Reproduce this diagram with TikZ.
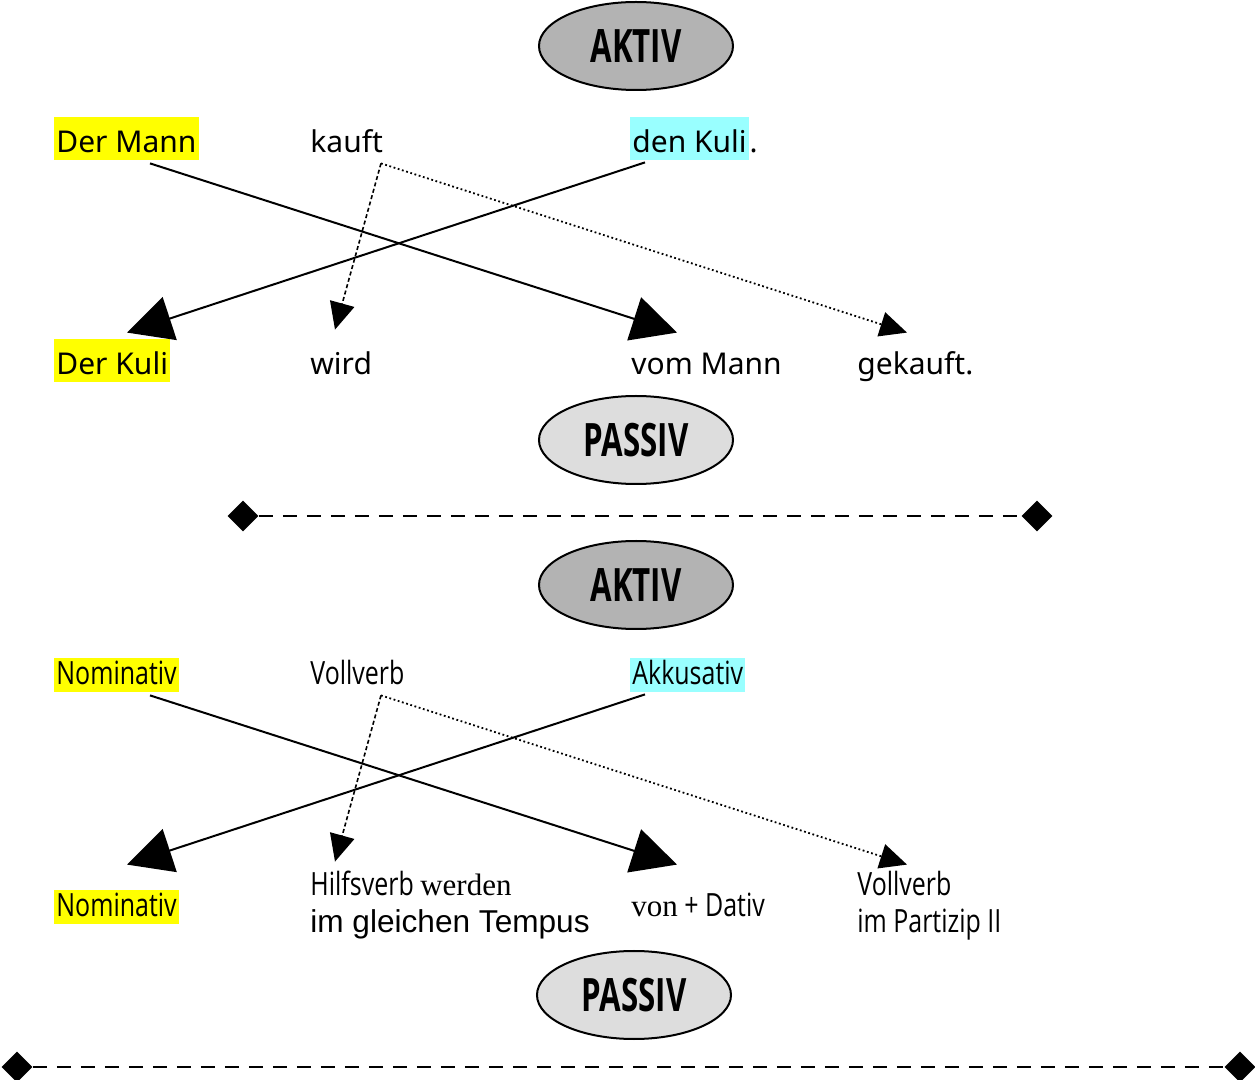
\documentclass[tikz,border=0pt]{standalone}
\usepackage{fontspec}
\usetikzlibrary{arrows.meta,shapes.geometric,calc}
\setmainfont{Noto Sans}
\newfontfamily\comicfont{Noto Sans}
\newfontfamily\condfont[FakeStretch=0.78]{Open Sans}
\newfontfamily\condboldfont[FakeStretch=0.68]{Open Sans}
\newfontfamily\arialfont{Liberation Sans}
\newfontfamily\tmsfont{Liberation Serif}
\definecolor{hlY}{HTML}{FFFF00}
\definecolor{hlC}{HTML}{99FFFF}
\definecolor{aktivgray}{HTML}{B3B3B3}
\definecolor{passivgray}{HTML}{DDDDDD}
\tikzset{
  ell/.style={ellipse, draw=black, line width=1pt, minimum width=97pt, minimum height=44pt, inner sep=0pt,
    font=\condboldfont\bfseries\fontsize{23}{26}\selectfont},
  comic/.style={anchor=base west, inner xsep=1pt, inner ysep=0pt, text height=18pt, text depth=3.5pt,
    font=\comicfont\fontsize{15}{18}\selectfont},
  cond/.style={anchor=base west, inner xsep=1pt, inner ysep=0pt, text height=13.5pt, text depth=3.5pt,
    font=\condfont\fontsize{16}{19}\selectfont},
  bigarrow/.style={line width=1pt, -{Triangle[length=22.5pt,width=22.5pt]}},
  dasharrow/.style={line width=0.8pt, dash pattern=on 2pt off 1.3pt, -{Triangle[length=13.5pt,width=12.5pt]}},
  dotarrow/.style={line width=0.9pt, dash pattern=on 0.9pt off 1.3pt, -{Triangle[length=13.5pt,width=12.5pt]}},
  diam/.style={diamond, fill=black, inner sep=0pt, minimum size=15.5pt},
  sepline/.style={line width=1pt, dash pattern=on 7pt off 5pt},
}
\begin{document}
\begin{tikzpicture}[x=0.5pt,y=-0.5pt]
\useasboundingbox (0,0) rectangle (1255,1080);

% ---------- upper example ----------
\node[ell, fill=aktivgray] (aktiv1) at (636,46) {AKTIV};

\node[comic, fill=hlY] (dermann) at (54,153) {Der Mann};
\node[comic] (kauft) at (308,153) {kauft};
\node[comic, fill=hlC] (denkuli) at (630,153) {den Kuli};
\node[comic, inner xsep=0pt, anchor=base west] (punkt1) at (denkuli.base east) {.};

\node[comic, fill=hlY] (derkuli) at (54,375) {Der Kuli};
\node[comic] (wird) at (308,375) {wird};
\node[comic] (vommann) at (629,375) {vom Mann};
\node[comic] (gekauft) at (855,375) {gekauft.};

\draw[bigarrow] ($(dermann.south west)+(96,3)$) -- ($(vommann.north west)+(48,-6)$);
\draw[bigarrow] ($(denkuli.south west)+(15,2)$) -- ($(derkuli.north west)+(73,-6)$);
\draw[dasharrow] ($(kauft.south west)+(73,3)$) -- ($(wird.north west)+(27,-9)$);
\draw[dotarrow] ($(kauft.south west)+(73,3)$) -- ($(gekauft.north west)+(52,-6)$);

\node[ell, fill=passivgray] (passiv1) at (636,440) {PASSIV};

\node[diam] (d1) at (243,516) {};
\node[diam] (d2) at (1037,516) {};
\draw[sepline] (d1) -- (d2);

% ---------- lower scheme ----------
\node[ell, fill=aktivgray] (aktiv2) at (636,585) {AKTIV};

\node[cond, fill=hlY] (nom1) at (54,685) {Nominativ};
\node[cond] (vollverb1) at (308,685) {Vollverb};
\node[cond, fill=hlC] (akk) at (630,685) {Akkusativ};

\node[cond, fill=hlY] (nom2) at (54,917) {Nominativ};
\node[cond] (hilfs) at (308,896) {Hilfsverb {\tmsfont\fontsize{15.5}{18}\selectfont werden}};
\node[cond, font=\arialfont\fontsize{15.8}{18}\selectfont] (tempus) at (308,933) {im gleichen Tempus};
\node[cond] (vondativ) at (629,917) {{\tmsfont\fontsize{15.5}{18}\selectfont von} + Dativ};
\node[cond] (vollverb2) at (855,896) {Vollverb};
\node[cond] (partizip) at (855,933) {im Partizip II};

\draw[bigarrow] ($(nom1.south west)+(96,3)$) -- ($(vondativ.north west)+(48,-25)$);
\draw[bigarrow] ($(akk.south west)+(15,2)$) -- ($(nom2.north west)+(73,-25)$);
\draw[dasharrow] ($(vollverb1.south west)+(73,3)$) -- ($(hilfs.north west)+(27,-7)$);
\draw[dotarrow] ($(vollverb1.south west)+(73,3)$) -- ($(vollverb2.north west)+(52,-4)$);

\node[ell, fill=passivgray] (passiv2) at (634,995) {PASSIV};

\node[diam] (d3) at (17,1067) {};
\node[diam] (d4) at (1240,1067) {};
\draw[sepline] (d3) -- (d4);
\end{tikzpicture}
\end{document}
